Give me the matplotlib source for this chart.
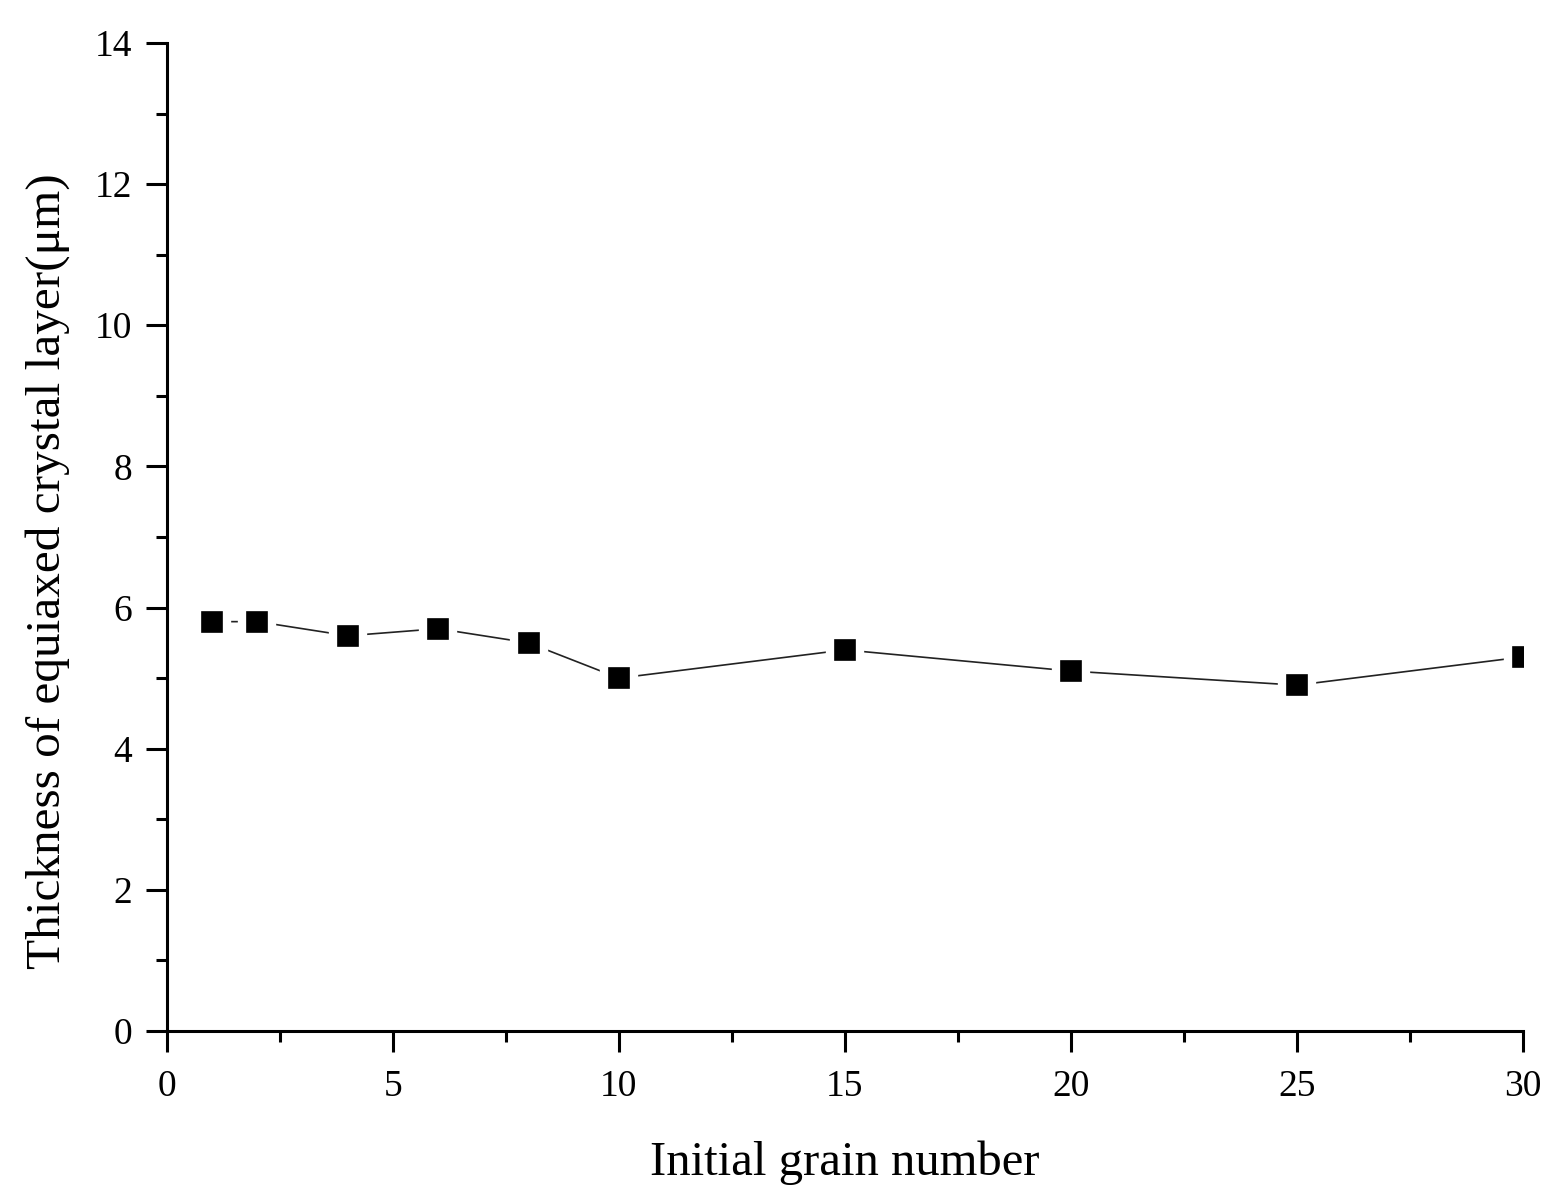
import matplotlib
matplotlib.use("Agg")
import matplotlib.pyplot as plt
from matplotlib.ticker import MultipleLocator

grain_number = [1, 2, 4, 6, 8, 10, 15, 20, 25, 30]
thickness = [5.8, 5.8, 5.6, 5.7, 5.5, 5.0, 5.4, 5.1, 4.9, 5.3]

plt.rcParams['font.family'] = ['Liberation Serif', 'DejaVu Serif']

fig = plt.figure(figsize=(15.66, 12.03), dpi=100)
ax = fig.add_axes([0.1066, 0.1430, 0.8659, 0.8213])

ax.plot(grain_number, thickness, color='#222222', linewidth=1.2,
        marker='s', markersize=21.5, markerfacecolor='black',
        markeredgecolor='white', markeredgewidth=6)

ax.set_xlim(0, 30)
ax.set_ylim(0, 14)
ax.xaxis.set_major_locator(MultipleLocator(5))
ax.xaxis.set_minor_locator(MultipleLocator(2.5))
ax.yaxis.set_major_locator(MultipleLocator(2))
ax.yaxis.set_minor_locator(MultipleLocator(1))

for s in ['top', 'right']:
    ax.spines[s].set_visible(False)
for s in ['left', 'bottom']:
    ax.spines[s].set_linewidth(2.2)

ax.tick_params(which='major', direction='out', length=15, width=2.2, labelsize=27)
ax.tick_params(which='minor', direction='out', length=8, width=2.2)
ax.tick_params(axis='x', which='major', pad=13)
ax.tick_params(axis='y', which='major', pad=10)

ax.set_xlabel('Initial grain number', fontsize=35)
ax.set_ylabel('Thickness of equiaxed crystal layer(μm)', fontsize=35.5)
ax.xaxis.set_label_coords(0.5, -0.111)
ax.yaxis.set_label_coords(-0.0715, 0.4656)

fig.savefig('out.png', dpi=100)
